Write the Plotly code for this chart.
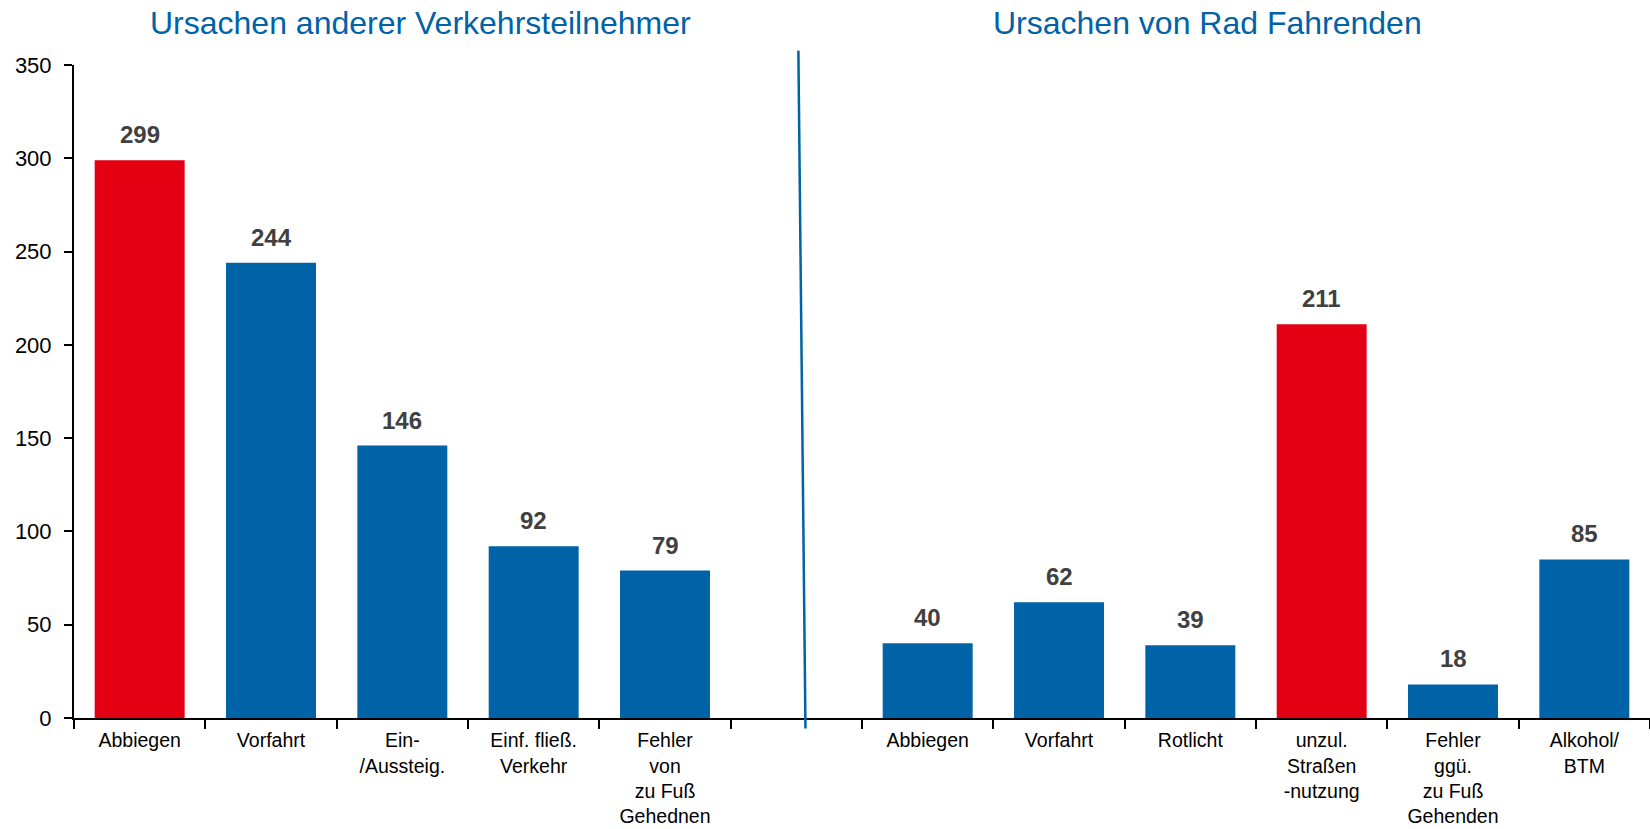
"""
Unfallursachen bei Radverkehrsunfällen - Balkendiagramm
"""

import plotly.graph_objects as go

# Kategorien (leerer Platz in der Mitte trennt die beiden Gruppen)
labels = [
    "Abbiegen", "Vorfahrt", "Ein-<br>/Aussteig.", "Einf. fließ.<br>Verkehr",
    "Fehler<br>von<br>zu Fuß<br>Gehednen", "",
    "Abbiegen", "Vorfahrt", "Rotlicht", "unzul.<br>Straßen<br>-nutzung",
    "Fehler<br>ggü.<br>zu Fuß<br>Gehenden", "Alkohol/<br>BTM",
]
values = [299, 244, 146, 92, 79, None, 40, 62, 39, 211, 18, 85]
highlight = [True, False, False, False, False, False,
             False, False, False, True, False, False]

group_titles = ["Ursachen anderer Verkehrsteilnehmer", "Ursachen von Rad Fahrenden"]
y_ticks = [0, 50, 100, 150, 200, 250, 300, 350]

BLUE = '#0062A7'
RED = '#E30013'
FONT = 'Liberation Sans, Arial, sans-serif'

x_pos = list(range(len(labels)))
gap_idx = values.index(None)
n = len(labels)

fig = go.Figure()

fig.add_trace(go.Bar(
    x=x_pos,
    y=values,
    marker_color=[RED if h else BLUE for h in highlight],
    marker_line_width=0,
    width=0.685,
    showlegend=False,
    hoverinfo='skip'
))

# value labels above bars
for xi, v in zip(x_pos, values):
    if v is None:
        continue
    fig.add_annotation(
        x=xi, y=v, xref='x', yref='y',
        text=f'<b>{v}</b>', showarrow=False,
        yanchor='bottom', yshift=10,
        font=dict(family=FONT, size=24, color='#404040')
    )

# group titles
for xc, t in zip([2.14, 8.13], group_titles):
    fig.add_annotation(
        x=xc, y=1.064, xref='x', yref='paper',
        text=t, showarrow=False, yanchor='middle',
        font=dict(family=FONT, size=32, color=BLUE)
    )

# divider between the two groups (paper coords so it is not clipped)
gx = (gap_idx + 0.5) / n + 0.0013
fig.add_shape(
    type='line', xref='paper', yref='paper',
    x0=gx, y0=1.022, x1=gx + 0.0045, y1=-0.016,
    line=dict(color=BLUE, width=2.5)
)

fig.update_layout(
    width=1650, height=829,
    margin=dict(l=74, r=0, t=65, b=111),
    plot_bgcolor='white',
    paper_bgcolor='white',
    font=dict(family=FONT, size=20, color='black'),
    xaxis=dict(
        range=[-0.5, n - 0.5],
        tickmode='array', tickvals=x_pos, ticktext=labels,
        ticks='', showgrid=False, zeroline=False,
        showline=True, linecolor='black', linewidth=2,
        tickfont=dict(size=19.5),
        ticklabelstandoff=4,
        automargin=False,
        minor=dict(
            tickmode='array',
            tickvals=[i - 0.5 for i in x_pos] + [n - 0.5],
            ticks='outside', ticklen=9, tickcolor='black', tickwidth=1.5,
            showgrid=False
        )
    ),
    yaxis=dict(
        range=[0, 350], tickmode='array', tickvals=y_ticks,
        ticks='outside', ticklen=8, tickcolor='black', tickwidth=1.5,
        showgrid=False, zeroline=False,
        showline=True, linecolor='black', linewidth=2,
        tickfont=dict(size=22),
        ticklabelstandoff=8,
        automargin=False
    ),
    bargap=0.315
)

fig.write_html(
    "out.html",
    config={'displayModeBar': False},
    post_script="document.body.style.margin='0';"
)
